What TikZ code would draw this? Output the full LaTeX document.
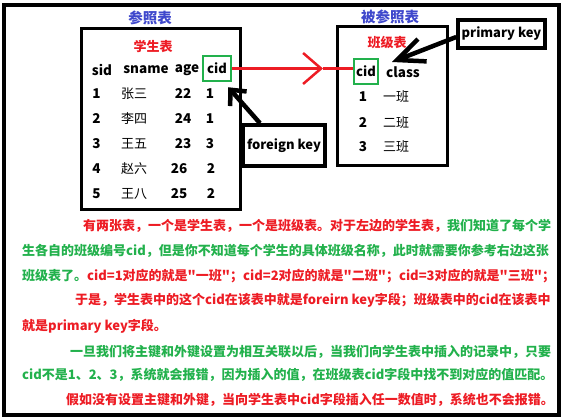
\documentclass[tikz,border=0pt]{standalone}
\usepackage{fontspec}
\setmainfont{Noto Sans CJK SC}[Ligatures=TeXOff]
\usetikzlibrary{arrows.meta, positioning}
\definecolor{tikzred}{RGB}{237, 28, 36}
\definecolor{tikzgreen}{RGB}{34, 177, 76}
\definecolor{tikzblue}{RGB}{63, 72, 204}
\tikzset{
  tblbox/.style 2 args={
    rectangle, draw=black, line width=3pt,
    minimum width=#1, minimum height=#2, inner sep=0pt
  },
  keybox/.style 2 args={
    rectangle, draw=#1, line width=2.5pt,
    minimum width=#2, minimum height=25, inner sep=0pt,
    font=\bfseries\fontsize{13}{13}\selectfont
  },
  note/.style 2 args={
    rectangle, draw=black, line width=3.5pt,
    minimum width=#1, minimum height=#2, inner sep=0pt,
    font=\bfseries\fontsize{13}{13}\selectfont
  },
  redline/.style={line width=2.5pt, color=tikzred},
  fatarr/.style 2 args={-{Straight Barb[length=#1, width=#2]}, line width=4.5pt, color=black},
}

\begin{document}
\begin{tikzpicture}[
  x=1pt, y=-1pt,
  tcell/.style={inner sep=0pt, font=\bfseries\fontsize{13.5}{13.5}\selectfont},
  cncell/.style={inner sep=0pt, font=\fontsize{13}{13}\selectfont},
  ttl/.style 2 args={inner sep=0pt, text=#1, font=\bfseries\fontsize{#2}{#2}\selectfont},
  para/.style={anchor=west, inner sep=0pt, text height=11pt, text depth=2pt,
    font=\bfseries\fontsize{13}{13}\selectfont}
]
\useasboundingbox (0,0) rectangle (562,419);

% ── Outer frame ───────────────────────────────────────────
\node[tblbox={554.5}{409.5}, line width=4pt] (page) at (281.25, 209.75) {};

% ── Titles ────────────────────────────────────────────────
\node[ttl={tikzblue}{14.5}] (refL) at (150, 18) {参照表};
\node[ttl={tikzblue}{14.5}] (refR) at (390, 17) {被参照表};

% ── Student table (left) ──────────────────────────────────
\node[tblbox={159}{181}] (stu) at (160.5, 119.5) {};
\node[ttl={tikzred}{13}] (stuname) at (153, 46) {学生表};

\node[tcell] (hsid)   at (102, 70) {sid};
\node[tcell] (hsname) at (146, 70) {sname};
\node[tcell] (hage)   at (187, 70) {age};
\node[keybox={tikzgreen}{28}] (cidL) at (217, 68.5) {cid};

\node[tcell]  (s1)  at (96.5, 94)  {1};
\node[cncell] (n1)  at (134, 94)   {张三};
\node[tcell]  (a1)  at (183, 94)   {22};
\node[tcell]  (c1)  at (210, 94)   {1};

\node[tcell]  (s2)  at (96.5, 119) {2};
\node[cncell] (n2)  at (134, 119)  {李四};
\node[tcell]  (a2)  at (183, 119)  {24};
\node[tcell]  (c2)  at (210, 119)  {1};

\node[tcell]  (s3)  at (96.5, 144) {3};
\node[cncell] (n3)  at (134, 144)  {王五};
\node[tcell]  (a3)  at (183, 144)  {23};
\node[tcell]  (c3)  at (210, 144)  {3};

\node[tcell]  (s4)  at (96.5, 169) {4};
\node[cncell] (n4)  at (134, 169)  {赵六};
\node[tcell]  (a4)  at (179, 169)  {26};
\node[tcell]  (c4)  at (211, 169)  {2};

\node[tcell]  (s5)  at (96.5, 194) {5};
\node[cncell] (n5)  at (134, 194)  {王八};
\node[tcell]  (a5)  at (179, 194)  {25};
\node[tcell]  (c5)  at (211, 194)  {2};

% ── Class table (right) ───────────────────────────────────
\node[tblbox={110}{139}] (cls) at (392, 96.5) {};
\node[ttl={tikzred}{13}] (clsname) at (387, 43) {班级表};

\node[keybox={tikzgreen}{24}] (cidR) at (366, 71.5) {cid};
\node[tcell] (hclass) at (403, 72) {class};

\node[tcell]  (k1) at (363, 97)  {1};
\node[cncell] (m1) at (396, 97)  {一班};
\node[tcell]  (k2) at (363, 123) {2};
\node[cncell] (m2) at (396, 123) {二班};
\node[tcell]  (k3) at (363, 147) {3};
\node[cncell] (m3) at (396, 147) {三班};

% ── Key labels ────────────────────────────────────────────
\node[note={87}{28}] (pk) at (501.5, 34)  {primary key};
\node[note={82}{41}] (fk) at (284, 145.5) {foreign key};

% ── Arrows ────────────────────────────────────────────────
\coordinate (chev) at (323, 68.5);
\draw[redline, -{Straight Barb[length=18, width=31]}] (cidL.east) -- (chev);
\draw[redline] (chev) -- (chev -| cidR.west);

\draw[fatarr={12}{22}] ([xshift=-24pt]fk.north) -- ([xshift=-4pt, yshift=-5pt]cidL.south east);
\draw[fatarr={27}{24}] ([yshift=-3pt]pk.west) -- (392, 62);

% ── Explanation text ──────────────────────────────────────
\node[para] (p1) at (83, 226) {\textcolor{tikzred}{有两张表，一个是学生表，一个是班级表。对于左边的学生表，}\textcolor{tikzgreen}{我们知道了每个学}};
\node[para, text=tikzgreen] (p2) at (22, 251.5) {生各自的班级编号cid，但是你不知道每个学生的具体班级名称，此时就需要你参考右边这张};
\node[para] (p3) at (22, 276.5) {\textcolor{tikzgreen}{班级表了。}\textcolor{tikzred}{cid=1对应的就是"一班"；cid=2对应的就是"二班"；cid=3对应的就是"三班"；}};
\node[para, text=tikzred] (p4) at (75, 300.5) {于是，学生表中的这个cid在该表中就是foreirn key字段；班级表中的cid在该表中};
\node[para, text=tikzred] (p5) at (22, 326.5) {就是primary key字段。};
\node[para, text=tikzgreen] (p6) at (70, 351.5) {一旦我们将主键和外键设置为相互关联以后，当我们向学生表中插入的记录中，只要};
\node[para, text=tikzgreen] (p7) at (22, 375.5) {cid不是1、2、3，系统就会报错，因为插入的值，在班级表cid字段中找不到对应的值匹配。};
\node[para, text=tikzred] (p8) at (66, 400) {假如没有设置主键和外键，当向学生表中cid字段插入任一数值时，系统也不会报错。};

\end{tikzpicture}
\end{document}
